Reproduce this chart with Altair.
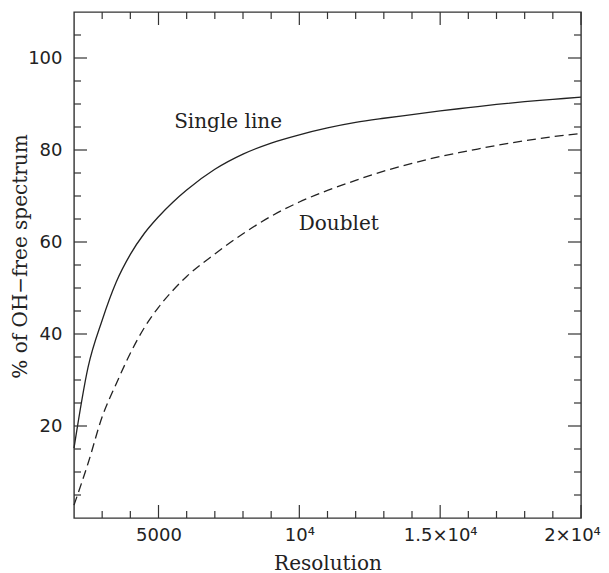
import altair as alt
import pandas as pd

# ---- data ----
resolution = [2000, 2500, 3000, 3500, 4000, 4500, 5000, 5500, 6000, 7000, 8000,
              9000, 10000, 11000, 12000, 13000, 14000, 15000, 16000, 17000,
              18000, 19000, 20000]
single_line = [15.2, 32.8, 43.0, 51.3, 57.3, 61.9, 65.5, 68.6, 71.3, 75.8, 79.1,
               81.5, 83.3, 84.8, 86.0, 86.9, 87.7, 88.5, 89.2, 89.9,
               90.5, 91.0, 91.5]
doublet = [2.8, 11.9, 22.0, 29.2, 35.8, 41.4, 45.8, 49.4, 52.5, 57.4, 61.8,
           65.6, 68.7, 71.2, 73.4, 75.4, 77.1, 78.6, 79.8, 81.0,
           82.0, 82.9, 83.6]

label_text = ["Single line", "Doublet"]
label_x = [7470, 11400]
label_y = [86.1, 63.9]

x_major_ticks = [5000, 10000, 15000, 20000]
x_major_labels = ["5000", "10\u2074", "1.5\u00d710\u2074", "2\u00d710\u2074"]
x_minor_ticks = [3000, 4000, 6000, 7000, 8000, 9000, 11000, 12000, 13000,
                 14000, 16000, 17000, 18000, 19000]
y_major_ticks = [20, 40, 60, 80, 100]
y_minor_ticks = [5, 10, 15, 25, 30, 35, 45, 50, 55, 65, 70, 75, 85, 90, 95, 105]

x_domain = [2000, 20000]
y_domain = [0, 110]

W, H = 507, 506
INK = "#222222"
FRAME = "#333333"
SANS = "DejaVu Sans"
SERIF = "DejaVu Serif"

df_single = pd.DataFrame({"R": resolution, "pct": single_line})
df_doublet = pd.DataFrame({"R": resolution, "pct": doublet})
df_labels = pd.DataFrame({"R": label_x, "pct": label_y, "text": label_text})
df_xmaj = pd.DataFrame({"R": x_major_ticks})
df_xmin = pd.DataFrame({"R": x_minor_ticks})
df_ymaj = pd.DataFrame({"pct": y_major_ticks})
df_ymin = pd.DataFrame({"pct": y_minor_ticks})

label_expr = " : ".join(
    f"datum.value == {v} ? '{t}'" for v, t in zip(x_major_ticks[:-1], x_major_labels[:-1])
) + f" : '{x_major_labels[-1]}'"

xscale = alt.Scale(domain=x_domain, nice=False, zero=False)
yscale = alt.Scale(domain=y_domain, nice=False, zero=False)

x_axis = alt.Axis(values=x_major_ticks, labelExpr=label_expr, ticks=False, tickSize=0,
                  domain=False, grid=False, labelFont=SANS, labelFontSize=18,
                  labelColor=INK, labelPadding=8, labelFlush=False, labelOverlap=False,
                  labelBound=False,
                  labelOffset={"condition": {"test": f"datum.value == {x_domain[1]}",
                                             "value": -9}, "value": 0},
                  title="Resolution", titleFont=SERIF,
                  titleFontSize=20, titleFontWeight="normal", titleColor=INK,
                  titleBaseline="alphabetic", titleY=51)
y_axis = alt.Axis(values=y_major_ticks, ticks=False, tickSize=0, domain=False,
                  grid=False, labelFont=SANS, labelFontSize=18, labelColor=INK,
                  labelPadding=12, labelFlush=False, labelOverlap=False,
                  title="% of OH\u2212free spectrum", titleFont=SERIF,
                  titleFontSize=20, titleFontWeight="normal", titleColor=INK,
                  titleBaseline="middle", titleX=-54, titleY=244)

X = alt.X("R:Q", scale=xscale, axis=x_axis)
Y = alt.Y("pct:Q", scale=yscale, axis=y_axis)

line_single = alt.Chart(df_single).mark_line(
    color=INK, strokeWidth=1.3, interpolate="monotone"
).encode(x=X, y=Y)
line_doublet = alt.Chart(df_doublet).mark_line(
    color=INK, strokeWidth=1.3, strokeDash=[9, 5], interpolate="monotone"
).encode(x=X, y=Y)
labels = alt.Chart(df_labels).mark_text(
    font=SERIF, fontSize=20, color=INK, align="center", baseline="middle"
).encode(x=X, y=Y, text="text:N")

MAJ, MIN = 13, 7


def xticks(df, length):
    base = alt.Chart(df).mark_rule(color=FRAME, strokeWidth=1.2)
    bottom = base.encode(x=X, y=alt.value(H), y2=alt.value(H - length))
    top = base.encode(x=X, y=alt.value(0), y2=alt.value(length))
    return [bottom, top]


def yticks(df, length):
    base = alt.Chart(df).mark_rule(color=FRAME, strokeWidth=1.2)
    left = base.encode(y=Y, x=alt.value(0), x2=alt.value(length))
    right = base.encode(y=Y, x=alt.value(W), x2=alt.value(W - length))
    return [left, right]


layers = ([line_single, line_doublet, labels]
          + xticks(df_xmaj, MAJ) + xticks(df_xmin, MIN)
          + yticks(df_ymaj, MAJ) + yticks(df_ymin, MIN))

chart = alt.layer(*layers).properties(
    width=W, height=H,
    autosize=alt.AutoSizeParams(type="none"),
    padding={"left": 66, "top": 4, "right": 20, "bottom": 55},
).configure_view(stroke=FRAME, strokeWidth=1.4)

chart.save("out.html", embed_options={"renderer": "svg", "actions": False})
